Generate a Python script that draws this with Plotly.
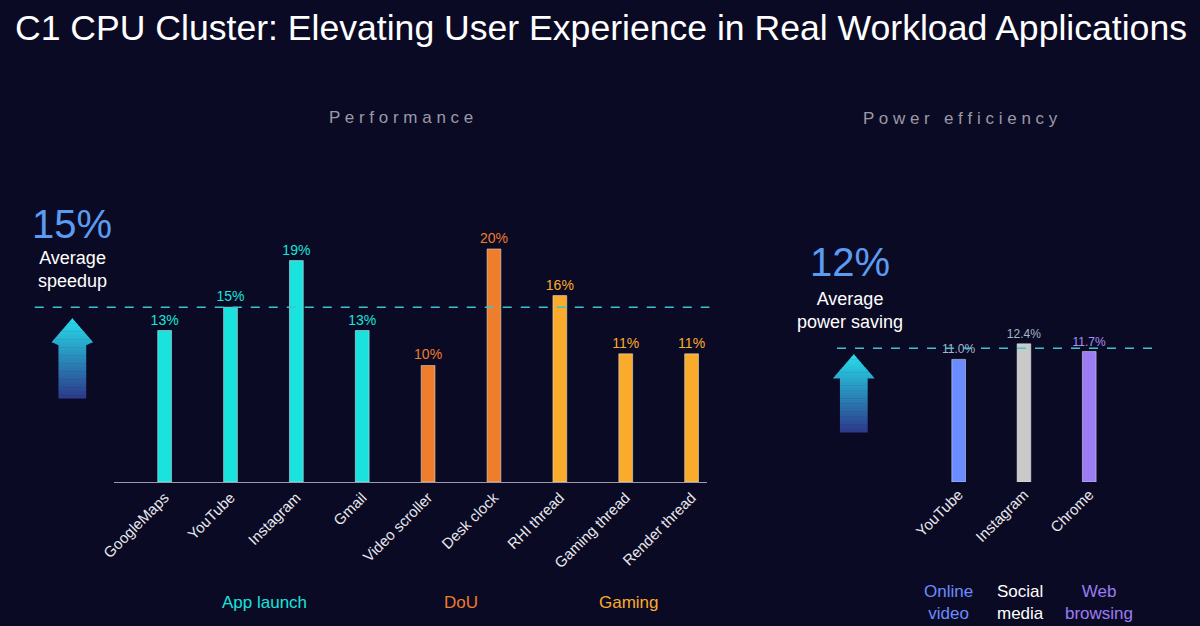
import plotly.graph_objects as go

perf_cats = ["GoogleMaps", "YouTube", "Instagram", "Gmail", "Video scroller",
             "Desk clock", "RHI thread", "Gaming thread", "Render thread"]
perf_vals = [13, 15, 19, 13, 10, 20, 16, 11, 11]
perf_labels = ["13%", "15%", "19%", "13%", "10%", "20%", "16%", "11%", "11%"]
perf_colors = ["#19e3dc"] * 4 + ["#ee7d2c", "#ee7d2c"] + ["#fbab2c"] * 3
perf_avg = 15

pow_cats = ["YouTube", "Instagram", "Chrome"]
pow_vals = [11.0, 12.4, 11.7]
pow_labels = ["11.0%", "12.4%", "11.7%"]
pow_colors = ["#6b8cff", "#c9c9c9", "#9b7cf2"]
pow_avg = 12

BG = "#0b0a24"
W, H = 1200, 626
OFF = 8
def px(x): return (x - OFF) / W
def pxr(x): return (x - OFF + 6) / W
def py(y): return 1 - y / H

fig = go.Figure()
fig.add_trace(go.Bar(x=perf_cats, y=perf_vals, marker_color=perf_colors, width=0.21,
                     text=perf_labels, textposition="outside", cliponaxis=False,
                     constraintext="none",
                     textfont=dict(size=14, color=perf_colors),
                     xaxis="x", yaxis="y", showlegend=False))
fig.add_trace(go.Bar(x=pow_cats, y=pow_vals, marker_color=pow_colors, width=0.21,
                     text=pow_labels, textposition="outside", cliponaxis=False,
                     constraintext="none",
                     textfont=dict(size=12, color=["#aab4c8", "#aab4c8", "#a890f4"]),
                     xaxis="x2", yaxis="y2", showlegend=False))

ydom = [py(482), py(200)]
fig.update_layout(
    width=W, height=H, paper_bgcolor=BG, plot_bgcolor="rgba(0,0,0,0)",
    margin=dict(l=0, r=0, t=0, b=0),
    font=dict(family="Arial, Liberation Sans, sans-serif", color="white"),
    xaxis=dict(domain=[px(110), px(710)], range=[-0.77, 8.24], showgrid=False,
               showline=True, linecolor="#9a9aa8", linewidth=1, ticks="",
               tickangle=-45, tickfont=dict(size=15, color="#e8e8ee"), zeroline=False),
    yaxis=dict(domain=ydom, range=[0, 24.2], visible=False),
    xaxis2=dict(domain=[pxr(900), pxr(1160)], range=[-0.879, 3.06], showgrid=False,
                showline=False, ticks="", tickangle=-45,
                tickfont=dict(size=15, color="#e8e8ee"), anchor="y2"),
    yaxis2=dict(domain=ydom, range=[0, 25.3], visible=False, anchor="x2"),
)

fig.add_shape(type="line", xref="paper", yref="y", x0=px(30), x1=px(712), y0=perf_avg, y1=perf_avg,
              line=dict(color="#3ec3cc", width=1.5, dash="dash"))
fig.add_shape(type="line", xref="paper", yref="y2", x0=pxr(835), x1=pxr(1155), y0=pow_avg, y1=pow_avg,
              line=dict(color="#3ec3cc", width=1.5, dash="dash"))

def arrow(fx, cx, ytop, ybot, hw=21, sw=14, head=24, n=30):
    c1 = (40, 220, 235); c2 = (45, 60, 140)
    for i in range(n):
        y0 = ytop + (ybot - ytop) * i / n
        y1 = ytop + (ybot - ytop) * (i + 1) / n
        t = i / (n - 1)
        col = "rgb(%d,%d,%d)" % tuple(int(a + (b - a) * t) for a, b in zip(c1, c2))
        def halfw(y):
            if y <= ytop + head:
                return hw * (y - ytop) / head
            return sw
        if y0 < ytop + head < y1:
            y1 = ytop + head
        w0, w1 = halfw(y0), halfw(y1)
        path = "M %f %f L %f %f L %f %f L %f %f Z" % (
            fx(cx - w0), py(y0), fx(cx + w0), py(y0), fx(cx + w1), py(y1 + 0.5), fx(cx - w1), py(y1 + 0.5))
        fig.add_shape(type="path", xref="paper", yref="paper", path=path,
                      fillcolor=col, line=dict(width=0))
        if y1 == ytop + head and (ybot - ytop) * (i + 1) / n + ytop > y1:
            y2 = ytop + (ybot - ytop) * (i + 1) / n
            path = "M %f %f L %f %f L %f %f L %f %f Z" % (
                fx(cx - sw), py(y1), fx(cx + sw), py(y1), fx(cx + sw), py(y2 + 0.5), fx(cx - sw), py(y2 + 0.5))
            fig.add_shape(type="path", xref="paper", yref="paper", path=path,
                          fillcolor=col, line=dict(width=0))

arrow(px, 68, 318, 398)
arrow(pxr, 852, 354, 432)

def txt(x, y, s, size, color, anchor="center", fx=px):
    fig.add_annotation(x=fx(x), y=py(y), xref="paper", yref="paper", text=s, showarrow=False,
                       xanchor=anchor, yanchor="middle", font=dict(size=size, color=color))

txt(8, 28, "C1 CPU Cluster: Elevating User Experience in Real Workload Applications", 35.6, "white", "left")
txt(400, 117, "P e r f o r m a n c e", 17, "#9a9aa6")
txt(960, 118, "P o w e r   e f f i c i e n c y", 17, "#9a9aa6", fx=pxr)
txt(68, 224, "15%", 40, "#5b9cf2")
txt(68, 270, "Average<br>speedup", 18, "white")
txt(848, 262, "12%", 40, "#5b9cf2", fx=pxr)
txt(848, 310, "Average<br>power saving", 18, "white", fx=pxr)
txt(262, 602, "App launch", 17, "#19e3dc")
txt(461, 602, "DoU", 17, "#ee7d2c")
txt(631, 602, "Gaming", 17, "#fbab2c")
txt(948, 602, "Online<br>video", 17, "#6b8cff", fx=pxr)
txt(1021, 602, "Social<br>media", 17, "white", fx=pxr)
txt(1100, 602, "Web<br>browsing", 17, "#9b7cf2", fx=pxr)

fig.write_html("out.html", config={"displayModeBar": False},
               post_script="document.body.style.margin='0';document.body.style.overflow='hidden';")
